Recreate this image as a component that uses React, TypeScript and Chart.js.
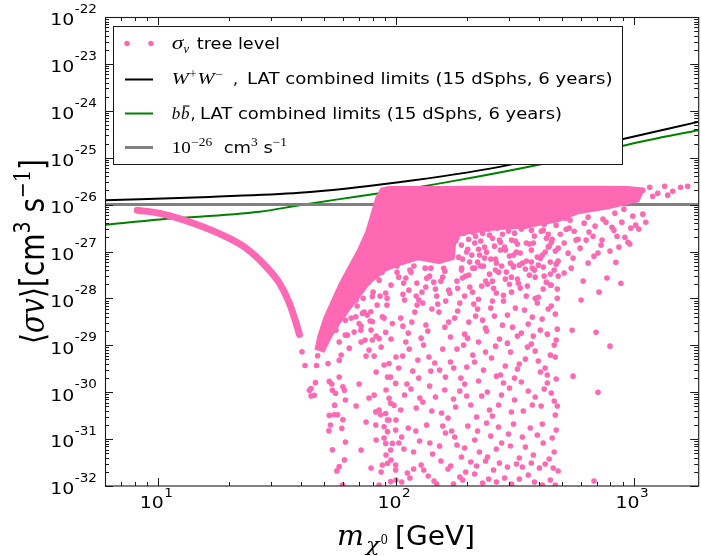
import React, { useEffect, useRef } from "react";
import { Chart, registerables } from "chart.js";

Chart.register(...registerables);

// ---------- axis ranges & ticks ----------
const X_MIN = 6;
const X_MAX = 1870;
const Y_MIN = 1e-32;
const Y_MAX = 1e-22;

const xMajorTicks = [10, 100, 1000];
const xTickExp = ["1", "2", "3"];
const yMajorTicks = [1e-22, 1e-23, 1e-24, 1e-25, 1e-26, 1e-27, 1e-28, 1e-29, 1e-30, 1e-31, 1e-32];
const yTickExp = ["-22", "-23", "-24", "-25", "-26", "-27", "-28", "-29", "-30", "-31", "-32"];
const minorMultipliers = [2, 3, 4, 5, 6, 7, 8, 9];

// ---------- limit curves ----------
const wwMass = [6, 16.5, 39.4, 103, 270, 885, 1870];
const wwLimit = [1.24e-26, 1.46e-26, 1.78e-26, 3.0e-26, 6.3e-26, 2.44e-25, 5.8e-25];

const bbMass = [6, 10.2, 26.8, 39.4, 70.2, 103, 167, 409, 1148, 1870];
const bbLimit = [3.73e-27, 4.82e-27, 7.0e-27, 9.7e-27, 1.51e-26, 2.03e-26, 3.05e-26, 7.26e-26, 2.36e-25, 3.86e-25];

const thermalMass = [6, 1870];
const thermalValue = [1e-26, 1e-26];

// ---------- tree-level scan: dense left arm (band of points) ----------
const armMass = [8.2, 10.2, 14.1, 19.4, 23.6, 28.6, 32.5, 35.8, 38.2, 39.4];
const armSigma = [7.6e-27, 6.5e-27, 4.0e-27, 2.05e-27, 1.16e-27, 4.7e-28, 2.1e-28, 7.8e-29, 2.9e-29, 1.7e-29];

// ---------- tree-level scan: densely filled core region (outline) ----------
const coreMass = [46.4, 47.8, 50.6, 54.7, 59.0, 63.8, 70.2, 75.9, 80.4, 83.6, 87.6, 93.8, 175, 184, 482, 709, 947, 1094, 1042, 781, 585, 482, 361, 270, 203, 177, 174, 152, 125, 103, 89.4, 77.3, 70.2, 63.8, 57.9, 52.6, 49.2];
const coreSigma = [7.9e-30, 1.57e-29, 3.8e-29, 9.2e-29, 2.12e-28, 4.4e-28, 1.07e-27, 2.58e-27, 6.9e-27, 1.37e-26, 2.1e-26, 2.25e-26, 2.25e-26, 2.3e-26, 2.3e-26, 2.3e-26, 2.25e-26, 2.1e-26, 1.24e-26, 8.8e-27, 6.9e-27, 4.66e-27, 3.47e-27, 3.15e-27, 2.59e-27, 2.13e-27, 7.2e-28, 5.93e-28, 7.2e-28, 5.4e-28, 4.0e-28, 2.22e-28, 1.17e-28, 6.2e-29, 3.13e-29, 1.43e-29, 7.2e-30];

// ---------- tree-level scan: individual scattered points [mass GeV, <sigma v>] ----------
const scatterArm: [number, number][] = [
  [40.4, 7.3e-30], [41.6, 3.7e-30], [43.4, 1.1e-30], [45.5, 8.6e-31], [46.0, 1.6e-30], [44.1, 1.2e-30], [44.1, 8.3e-31],
  [46.5, 3.7e-30], [47.0, 6.0e-30], [52.0, 4.1e-30], [52.6, 1.7e-30], [53.9, 1.5e-30], [54.2, 1.1e-30], [55.9, 9.5e-31],
  [57.9, 2.1e-30], [57.9, 4.8e-30], [59.0, 6.2e-30], [60.0, 1.3e-30], [60.9, 1.1e-30], [61.5, 6.8e-31], [55.4, 5.3e-31],
  [52.6, 3.2e-31], [55.2, 3.3e-31], [57.0, 3.3e-31], [60.0, 2.6e-31], [59.4, 1.7e-31], [52.4, 1.5e-31], [53.2, 2.0e-31],
  [61.5, 8.7e-32], [54.2, 5.9e-32], [60.9, 3.6e-32], [57.9, 2.6e-32], [56.6, 2.1e-32], [59.8, 1.05e-32],
];

const scatterColumn: [number, number][] = [
  [68.0, 2.1e-28], [70.2, 1.3e-28], [77.3, 2.25e-28], [85.2, 2.45e-28], [90.8, 1.3e-28], [79.8, 1.1e-28], [78.6, 5.2e-29],
  [72.5, 4.8e-29], [68.0, 4.05e-29], [61.5, 3.4e-29], [56.1, 2.1e-29], [70.2, 2.9e-29], [79.8, 3.2e-29], [87.9, 4.05e-29],
  [96.8, 2.9e-29], [90.8, 1.9e-29], [79.8, 1.3e-29], [85.2, 1.4e-29], [71.4, 2.1e-29], [62.7, 1.65e-29], [77.3, 7.9e-30],
  [89.4, 3.8e-30], [93.8, 4.1e-30], [95.3, 2.1e-30], [92.4, 2.1e-30], [100, 1.54e-30], [93.8, 7.4e-31], [95.3, 5.8e-31],
  [98.4, 5.3e-31], [82.5, 3.8e-31], [86.5, 3.3e-31], [90.8, 3.5e-31], [92.4, 2.55e-31], [82.5, 2.0e-31], [89.4, 1.84e-31],
  [92.4, 1.44e-31], [100, 1.56e-31], [96.8, 8.1e-32], [90.8, 8.1e-32], [95.3, 5.85e-32], [92.4, 3.05e-32], [87.9, 2.8e-32],
  [100, 2.8e-32], [100, 2.2e-32], [95.3, 1.24e-32], [101.3, 3.6e-28], [119.3, 4.9e-28], [135.2, 2.7e-28], [159.2, 4.4e-28],
  [113.7, 1.5e-28], [91.9, 7.2e-29], [125.2, 9.2e-29],
  [68.2, 9.2e-29], [71.6, 1.17e-29], [73.7, 5.1e-29], [75.1, 5.89e-30], [78.8, 2.11e-29], [82.8, 2.68e-30], [86.9, 9.15e-30],
  [91.1, 1.11e-30], [95.6, 1.36e-29], [100.3, 5.6e-30], [70.2, 1.5e-30], [77.3, 7.5e-31], [81.2, 5.89e-30], [85.2, 4.17e-31],
  [89.4, 1.05e-31], [95.6, 3.58e-32], [100.3, 2.55e-31], [82.8, 9.55e-32], [86.9, 1.99e-32], [91.1, 4.58e-32], [75.1, 2.31e-31],
  [78.8, 2.42e-32], [71.6, 5.85e-32], [68.2, 5.07e-31], [100.3, 1.34e-32], [103.2, 8.24e-32], [93.8, 2.55e-31], [85.2, 1.05e-32],
  [81.2, 8.68e-31], [89.4, 3.8e-29],
];

const scatterNearCore: [number, number][] = [
  [65.0, 3.8e-29], [68.9, 6.85e-29], [73.0, 1.01e-28], [75.9, 4.4e-29], [80.4, 1.36e-28], [83.6, 7.19e-29], [66.9, 1.91e-29],
  [71.6, 2.57e-29], [78.1, 3.28e-29], [82.8, 1.57e-29], [61.4, 1.65e-29], [57.9, 1.17e-29], [63.8, 8.7e-30], [74.4, 1.29e-29],
  [86.0, 1.12e-28],
  [87.7, 3.63e-28], [95.6, 1.92e-28], [101.3, 4.88e-28], [107.3, 1.23e-28], [114.8, 4.01e-28], [122.8, 2.12e-28], [130, 7.93e-29],
  [140.5, 4.42e-28], [148.8, 1.12e-28], [157.7, 2.84e-28], [167.1, 1.5e-28], [92.0, 1.01e-28], [110.4, 2.71e-28], [133.9, 1.74e-28],
  [162.4, 8.75e-29], [144.6, 2.22e-28],
  [178.7, 1.67e-27], [193.1, 2.46e-27], [204.6, 5.94e-28], [216.8, 2.12e-27], [236.4, 1.24e-27], [255.3, 1.92e-27], [265.4, 5.65e-28],
  [281.2, 2.34e-27], [300.8, 7.97e-28], [318.6, 1.67e-27], [337.6, 3.0e-27], [354.4, 6.24e-28], [379.0, 1.51e-27], [409.4, 2.71e-27],
  [425.4, 9.7e-28], [455.1, 1.83e-27], [482.3, 1.18e-27], [189.4, 4.42e-28], [225.3, 8.37e-28], [289.4, 1.07e-27], [397.7, 5.12e-28],
  [446.5, 5.94e-28], [198.8, 9.7e-28], [245.7, 3.0e-27], [312.6, 4.88e-28],
  [521, 2.99e-27], [573, 1.75e-27], [689, 3.47e-27], [737, 1.75e-27], [852, 2.12e-27], [947, 1.58e-27], [1021, 3.65e-27],
  [1094, 6.25e-27],
];

const scatterDense: [number, number][] = [
  [182.3, 1.65e-28], [196.9, 2.99e-28], [210.6, 1.36e-28], [227.5, 4.88e-28], [243.3, 2.01e-28], [262.8, 4.01e-28],
  [283.9, 1.17e-28], [306.5, 2.84e-28], [331.2, 5.12e-28], [357.8, 1.83e-28], [386.4, 1.01e-28], [417.4, 4.65e-28],
  [450.8, 1.92e-28], [482.3, 2.99e-28], [191.3, 6.88e-28], [223.1, 1.12e-27], [260.3, 1.3e-27], [303.6, 5.65e-28],
  [354.4, 1.51e-27], [413.4, 8.37e-28], [473, 5.38e-28], [202.7, 1.83e-27], [236.4, 7.23e-28], [275.8, 1.58e-27],
  [321.7, 9.7e-28], [375.4, 4.42e-28], [437.9, 1.24e-27],
];

const scatterLow: [number, number][] = [
  [108, 2.12e-28], [116, 3.63e-28], [129, 1.36e-28], [139, 2.98e-28], [147, 1.58e-28], [161, 3.81e-28], [181, 2.34e-28],
  [195, 1.12e-28], [211, 4.42e-28], [230, 1.83e-28], [248, 3.29e-28], [265, 1.3e-28], [289, 2.58e-28], [313, 4.65e-28],
  [334, 1.66e-28], [365, 3.13e-28], [398, 1.06e-28], [430, 2.22e-28], [464, 4.01e-28],
  [105, 3.8e-29], [113, 1.82e-29], [123, 7.19e-29], [134, 2.7e-29], [152, 5.1e-29], [170, 1.5e-29], [186, 7.93e-29],
  [203, 3.12e-29], [221, 5.91e-29], [241, 2.01e-29], [260, 4.19e-29], [284, 8.75e-29], [310, 2.44e-29], [348, 5.63e-29],
  [379, 1.57e-29], [413, 3.62e-29], [451, 6.85e-29], [478, 2.21e-29],
  [107, 5.89e-30], [118, 2.82e-30], [131, 1.01e-29], [146, 4.18e-30], [162, 2.1e-30], [181, 8.3e-30], [199, 3.43e-30],
  [223, 1.17e-29], [253, 5.34e-30], [276, 2.32e-30], [304, 7.17e-30], [331, 3.98e-30], [372, 1.06e-29], [406, 2.69e-30],
  [447, 6.18e-30], [473, 1.91e-30],
  [109, 8.69e-31], [122, 4.59e-31], [139, 1.35e-30], [156, 3.59e-31], [175, 7.14e-31], [195, 1.49e-30], [219, 2.95e-31],
  [243, 1.01e-30], [271, 5.32e-31], [301, 1.23e-30], [344, 3.96e-31], [386, 7.88e-31], [434, 1.57e-30], [469, 3.26e-31],
  [106, 1.11e-31], [119, 5.3e-32], [135, 1.99e-31], [153, 7.12e-32], [172, 1.49e-31], [189, 4.15e-32], [215, 9.55e-32],
  [241, 2.2e-31], [265, 6.14e-32], [298, 1.28e-31], [331, 3.95e-32], [368, 1.72e-31], [417, 8.25e-32], [464, 5.3e-32],
  [112, 1.89e-32], [128, 2.8e-32], [145, 1.28e-32], [166, 2.3e-32], [186, 1.55e-32], [207, 3.25e-32], [232, 1.16e-32],
  [258, 2.19e-32], [287, 1.48e-32], [322, 2.94e-32], [361, 1.71e-32], [402, 2.42e-32], [447, 1.34e-32], [482, 2.09e-32],
];

const scatterLow2: [number, number][] = [
  [103, 2.84e-28], [122, 1.12e-28], [133, 4.42e-28], [155, 2.33e-28], [169, 1.29e-28], [189, 4.01e-28], [205, 1.74e-28],
  [223, 9.6e-29], [255, 2.33e-28], [279, 4.88e-28], [307, 1.36e-28], [325, 2.58e-28], [354, 1.12e-28], [383, 4.01e-28],
  [417, 1.58e-28], [447, 3.3e-28], [478, 1.01e-28],
  [109, 9.2e-29], [117, 3.12e-29], [128, 1.42e-29], [142, 5.92e-29], [161, 2.44e-29], [177, 3.8e-29], [195, 1.73e-29],
  [213, 7.56e-29], [232, 3.44e-29], [251, 6.21e-29], [273, 1.36e-29], [295, 4.4e-29], [325, 1.57e-29], [361, 2.83e-29],
  [394, 7.94e-29], [434, 1.73e-29], [469, 4.63e-29],
  [103, 3.27e-30], [114, 8.3e-30], [125, 2.0e-30], [138, 5.6e-30], [153, 2.96e-30], [170, 4.39e-30], [188, 2.0e-30],
  [211, 6.18e-30], [234, 2.96e-30], [263, 9.6e-30], [289, 3.61e-30], [316, 2.0e-30], [351, 5.08e-30], [386, 7.52e-30],
  [425, 3.27e-30], [464, 1.01e-29],
  [105, 4.17e-31], [116, 1.17e-30], [130, 6.16e-31], [147, 7.87e-31], [166, 2.82e-31], [186, 1.06e-30], [207, 5.32e-31],
  [230, 8.27e-31], [255, 3.11e-31], [284, 1.57e-30], [316, 6.8e-31], [361, 1.06e-30], [409, 5.07e-31], [451, 9.58e-31],
  [478, 5.07e-31],
  [113, 1.72e-31], [126, 9.09e-32], [143, 4.81e-32], [162, 1.35e-31], [181, 7.47e-32], [201, 1.9e-31], [225, 5.3e-32],
  [251, 1.16e-31], [279, 8.24e-32], [313, 2.1e-31], [351, 6.77e-32], [394, 1.22e-31], [442, 3.76e-32], [473, 1.56e-31],
  [106, 1.21e-32], [119, 2.3e-32], [137, 1.63e-32], [155, 3.41e-32], [175, 1.1e-32], [197, 1.99e-32], [219, 2.67e-32],
  [246, 1.41e-32], [273, 3.09e-32], [307, 1.1e-32], [341, 2.54e-32], [383, 1.21e-32], [425, 2.94e-32], [469, 1.05e-32],
];

const scatterLow3: [number, number][] = [
  [107.3, 2.56e-29], [120.4, 5.1e-29], [136.5, 2.01e-29], [150.3, 7.56e-29], [167.1, 3.12e-29], [182.3, 5.36e-29],
  [200.7, 1.42e-29], [216.8, 4.19e-29], [238.7, 2.32e-29], [255.3, 8.76e-29], [281.2, 2.69e-29], [318.6, 6.21e-29],
  [337.6, 1.82e-29], [375.4, 3.99e-29], [405.5, 2.11e-29], [437.9, 5.92e-29], [473, 1.29e-29],
  [110.4, 1.17e-29], [124, 4.84e-30], [140.5, 2.82e-30], [157.7, 8.29e-30], [175.4, 3.27e-30], [193.1, 1.01e-29],
  [214.7, 4.39e-30], [238.7, 7.16e-30], [265.4, 2.2e-30], [295, 1.11e-29], [324.9, 3.11e-30], [357.8, 9.15e-30],
  [397.7, 4.61e-30], [433.8, 2.32e-30], [468.5, 5.6e-30],
  [111.5, 1.5e-30], [126.4, 7.5e-31], [141.9, 3.97e-31], [160.8, 1.11e-30], [178.7, 4.82e-31], [198.8, 8.27e-31],
  [223.1, 1.73e-30], [248.1, 4.17e-31], [278.5, 8.68e-31], [306.5, 3.78e-31], [337.6, 1.65e-30], [375.4, 5.32e-31],
  [421.3, 1.17e-30], [464, 6.47e-31],
  [108.3, 6.14e-32], [121.6, 1.49e-31], [139.2, 8.24e-32], [157.7, 1.9e-31], [177.1, 1.11e-31], [195, 6.45e-32],
  [221, 1.49e-31], [243.3, 4.15e-32], [270.5, 1.81e-31], [303.6, 7.11e-32], [340.9, 1.11e-31], [379, 4.58e-32],
  [413.4, 2.1e-31], [455.1, 1.05e-31],
  [114.8, 1.48e-32], [131.3, 2.19e-32], [148.8, 1.1e-32], [170.4, 2.67e-32], [191.3, 1.34e-32], [214.7, 1.8e-32],
  [238.7, 3.41e-32], [265.4, 1.21e-32], [295, 2.54e-32], [331.2, 1.41e-32], [371.8, 3.09e-32], [413.4, 1.05e-32],
  [459.6, 2.42e-32],
];

const scatterBand: [number, number][] = [
  [188, 6.57e-27], [203, 4.89e-27], [219, 7.99e-27], [239, 4.02e-27], [258, 5.95e-27], [279, 7.61e-27], [304, 4.44e-27],
  [328, 6.9e-27], [358, 5.14e-27], [386, 8.81e-27], [421, 3.83e-27], [460, 6.25e-27], [497, 8.39e-27], [541, 4.66e-27],
  [590, 7.24e-27], [644, 5.4e-27], [702, 9.26e-27], [766, 4.22e-27], [835, 6.57e-27], [911, 7.99e-27], [993, 5.67e-27],
  [181, 1.93e-27], [197, 2.99e-27], [215, 1.51e-27], [232, 2.46e-27], [253, 3.3e-27], [273, 1.75e-27], [298, 2.72e-27],
  [325, 1.44e-27], [351, 3.47e-27], [383, 2.13e-27], [417, 2.85e-27], [451, 1.58e-27], [492, 2.34e-27], [536, 3.15e-27],
  [585, 1.83e-27], [650, 2.59e-27], [730, 1.37e-27], [812, 3.3e-27], [920, 2.02e-27],
  [184, 7.58e-28], [201, 1.12e-27], [221, 5.93e-28], [241, 9.69e-28], [263, 6.87e-28], [287, 1.24e-27], [313, 8.37e-28],
  [341, 5.65e-28], [372, 1.07e-27], [406, 7.22e-28], [442, 1.3e-27], [482, 6.23e-28], [531, 9.23e-28], [596, 1.18e-27],
  [682, 7.96e-28], [796, 1.02e-27],
  [191, 2.71e-28], [215, 4.42e-28], [239, 2.34e-28], [271, 3.63e-28], [301, 2.01e-28], [351, 4.21e-28], [386, 2.84e-28],
  [447, 1.92e-28], [511, 3.46e-28], [614, 2.34e-28], [716, 1.36e-28],
];

const scatterBand2: [number, number][] = [
  [195, 3.47e-27], [211, 2.58e-27], [230, 4.22e-27], [248, 2.23e-27], [268, 3.15e-27], [292, 3.83e-27], [316, 2.46e-27],
  [344, 4.44e-27], [372, 2.85e-27], [402, 4.89e-27], [438, 2.34e-27], [473, 3.65e-27], [516, 5.14e-27], [563, 2.71e-27],
  [620, 4.02e-27], [676, 2.12e-27], [744, 4.89e-27], [827, 2.85e-27], [893, 4.22e-27], [974, 3.15e-27],
  [189, 1.37e-27], [209, 8.37e-28], [228, 1.67e-27], [251, 6.88e-28], [276, 1.07e-27], [307, 1.75e-27], [334, 9.24e-28],
  [365, 1.44e-27], [394, 7.59e-28], [430, 1.92e-27], [469, 1.02e-27], [511, 1.51e-27], [557, 7.23e-28], [632, 1.75e-27],
  [709, 9.24e-28], [868, 1.24e-27],
  [203, 3.14e-28], [234, 4.88e-28], [258, 1.65e-28], [292, 3.64e-28], [328, 2.11e-28], [372, 5.94e-28], [421, 2.99e-28],
  [478, 1.58e-28], [547, 4.42e-28], [644, 5.65e-28], [773, 2.71e-28],
];

const scatterFar: [number, number][] = [
  [552, 2.1e-29], [696, 1.9e-29], [796, 9.6e-30], [709, 1.0e-30], [682, 1.28e-32], [885, 2.1e-28], [602, 9.2e-29],
  [843, 5.9e-28], [965, 1.44e-27], [1052, 3.0e-27], [1126, 4.2e-27], [557, 2.2e-30], [1094, 2.03e-26], [1170, 2.35e-26],
  [1264, 1.75e-26], [1352, 2.47e-26], [1461, 1.93e-26], [1578, 2.35e-26], [1688, 2.47e-26], [1204, 1.51e-26],
  [1023, 1.3e-26], [1392, 1.59e-26],
];

// ---------- styling ----------
const PINK = "#ff69b4";
const GREEN = "#008000";
const GRAY = "#808080";
const SANS = "'DejaVu Sans'";
const SERIF = "'DejaVu Serif'";
const MATH = "'Liberation Serif'";
const SX = 1.18; // horizontal glyph stretch of the reference raster

type Run = { t: string; f: string; dy?: number; dx?: number };

function runsWidth(ctx: CanvasRenderingContext2D, runs: Run[], sx: number) {
  let w = 0;
  for (const r of runs) {
    ctx.font = r.f;
    w += ctx.measureText(r.t).width * sx + (r.dx ?? 0);
  }
  return w;
}

function drawRuns(
  ctx: CanvasRenderingContext2D,
  runs: Run[],
  x: number,
  y: number,
  align: "left" | "center" | "right",
  rotated = false,
  stretch = SX
) {
  ctx.save();
  ctx.translate(x, y);
  if (rotated) ctx.rotate(-Math.PI / 2);
  const sx = rotated ? 1 : stretch;
  const sy = rotated ? stretch : 1;
  ctx.textAlign = "left";
  ctx.textBaseline = "alphabetic";
  const w = runsWidth(ctx, runs, sx);
  let cx = align === "left" ? 0 : align === "center" ? -w / 2 : -w;
  for (const r of runs) {
    ctx.font = r.f;
    cx += r.dx ?? 0;
    const rw = ctx.measureText(r.t).width * sx;
    ctx.save();
    ctx.translate(cx, (r.dy ?? 0) * sy);
    ctx.scale(sx, sy);
    ctx.fillText(r.t, 0, 0);
    ctx.restore();
    cx += rw;
  }
  ctx.restore();
}

// text drawn from x, stretched/compressed to a given advance width
function fit(ctx: CanvasRenderingContext2D, t: string, f: string, x: number, y: number, w: number) {
  ctx.save();
  ctx.font = f;
  ctx.textAlign = "left";
  ctx.textBaseline = "alphabetic";
  const m = ctx.measureText(t).width;
  ctx.translate(x, y);
  ctx.scale(w / m, 1);
  ctx.fillText(t, 0, 0);
  ctx.restore();
}

const decorPlugin = {
  id: "decor",
  afterDatasetsDraw(chart: any) {
    const ctx: CanvasRenderingContext2D = chart.ctx;
    const a = chart.chartArea;
    const xs = chart.scales.x;
    const ys = chart.scales.y;
    ctx.save();

    // frame
    ctx.strokeStyle = "#1a1a1a";
    ctx.lineWidth = 1.1;
    ctx.strokeRect(a.left + 0.5, a.top + 0.5, a.right - a.left, a.bottom - a.top - 0.5);

    const seg = (x1: number, y1: number, x2: number, y2: number) => {
      ctx.beginPath();
      ctx.moveTo(x1, y1);
      ctx.lineTo(x2, y2);
      ctx.stroke();
    };

    // x ticks (inward, bottom and top)
    ctx.lineWidth = 1;
    const xDecades = [1, 10, 100, 1000];
    for (const d of xDecades) {
      for (const k of minorMultipliers) {
        const v = d * k;
        if (v < X_MIN || v > X_MAX) continue;
        const px = Math.round(xs.getPixelForValue(v)) + 0.5;
        seg(px, a.bottom, px, a.bottom - 4);
        seg(px, a.top, px, a.top + 4);
      }
    }
    for (const v of xMajorTicks) {
      const px = Math.round(xs.getPixelForValue(v)) + 0.5;
      seg(px, a.bottom, px, a.bottom - 8);
      seg(px, a.top, px, a.top + 8);
    }
    // y ticks (inward, left and right)
    for (const d of yMajorTicks) {
      for (const k of minorMultipliers) {
        const v = d * k;
        if (v < Y_MIN || v > Y_MAX) continue;
        const py = Math.round(ys.getPixelForValue(v)) + 0.5;
        seg(a.left, py, a.left + 4, py);
        seg(a.right, py, a.right - 4, py);
      }
    }
    for (const v of yMajorTicks) {
      const py = Math.round(ys.getPixelForValue(v)) + 0.5;
      seg(a.left, py, a.left + 8, py);
      seg(a.right, py, a.right - 8, py);
    }

    // tick labels
    ctx.fillStyle = "#000";
    xMajorTicks.forEach((v, i) => {
      const px = xs.getPixelForValue(v);
      drawRuns(
        ctx,
        [
          { t: "10", f: `16px ${SANS}` },
          { t: xTickExp[i], f: `11.5px ${SANS}`, dy: -11, dx: 0.5 },
        ],
        px - 1.5,
        a.bottom + 21.7,
        "center"
      );
    });
    yMajorTicks.forEach((v, i) => {
      const py = ys.getPixelForValue(v);
      drawRuns(
        ctx,
        [
          { t: "10", f: `16px ${SANS}` },
          { t: yTickExp[i], f: `11.5px ${SANS}`, dy: -12.3, dx: 0.5 },
        ],
        a.left - 8,
        py + 8.3,
        "right"
      );
    });

    // x axis title
    fit(ctx, "m", `italic 28px ${SERIF}`, 337, 545, 27);
    fit(ctx, "χ", `italic 19px ${SERIF}`, 366, 551, 13.5);
    fit(ctx, "0", `13px ${SERIF}`, 380.5, 544, 7.5);
    fit(ctx, "[GeV]", `26px ${SANS}`, 395, 545, 80);

    // y axis title
    drawRuns(
      ctx,
      [
        { t: "⟨", f: `28px ${SANS}` },
        { t: "σv", f: `italic 28px ${SERIF}` },
        { t: "⟩", f: `28px ${SANS}` },
        { t: "[cm", f: `28px ${SANS}` },
        { t: "3", f: `19px ${SANS}`, dy: -12 },
        { t: " s", f: `28px ${SANS}` },
        { t: "−1", f: `19px ${SERIF}`, dy: -12 },
        { t: "]", f: `28px ${SANS}` },
      ],
      44,
      251.5,
      "center",
      true
    );

    // legend
    const L = { x: 113, y: 26, w: 509, h: 138 };
    ctx.fillStyle = "#fff";
    ctx.fillRect(L.x, L.y, L.w, L.h);
    ctx.strokeStyle = "#1a1a1a";
    ctx.lineWidth = 1;
    ctx.strokeRect(L.x + 0.5, L.y + 0.5, L.w, L.h);

    const rows = [43.5, 79.5, 113.5, 147.5];
    const hx1 = 125;
    const hx2 = 153;
    ctx.fillStyle = PINK;
    for (const mx of [127, 151]) {
      ctx.beginPath();
      ctx.arc(mx, rows[0], 2.7, 0, Math.PI * 2);
      ctx.fill();
    }
    const handle = (y: number, color: string, lw: number) => {
      ctx.strokeStyle = color;
      ctx.lineWidth = lw;
      seg(hx1, y, hx2, y);
    };
    handle(rows[1], "#000", 2);
    handle(rows[2], GREEN, 2);
    handle(rows[3], GRAY, 3);

    ctx.fillStyle = "#000";
    const lab = `16px ${SANS}`;
    const mi = `italic 17px ${MATH}`;
    const sup = `12px ${MATH}`;
    const LAT = "LAT combined limits (15 dSphs, 6 years)";
    // row 1
    fit(ctx, "σ", `italic 18px ${MATH}`, 171.7, 49.3, 11.6);
    fit(ctx, "v", `italic 13px ${MATH}`, 183.5, 53, 5.5);
    fit(ctx, "tree level", lab, 196.7, 49.3, 83.3);
    // row 2
    fit(ctx, "W", mi, 171.7, 84.3, 17);
    fit(ctx, "+", sup, 189.5, 78, 7);
    fit(ctx, "W", mi, 197.5, 84.3, 17);
    fit(ctx, "−", sup, 215.5, 78, 7.5);
    fit(ctx, ",", lab, 233, 84.3, 5);
    fit(ctx, LAT, lab, 247, 84.3, 365.5);
    // row 3
    fit(ctx, "b", mi, 171.7, 119, 8.5);
    fit(ctx, "b", mi, 181, 119, 8.5);
    ctx.fillRect(183, 105.5, 6.5, 1.1);
    fit(ctx, ",", lab, 190.5, 119, 5);
    fit(ctx, LAT, lab, 200, 119, 362);
    // row 4
    drawRuns(
      ctx,
      [
        { t: "10", f: `17px ${MATH}` },
        { t: "−26", f: sup, dy: -7.5, dx: 0.5 },
        { t: "  cm", f: lab },
        { t: "3", f: sup, dy: -7 },
        { t: " s", f: lab },
        { t: "−1", f: sup, dy: -7 },
      ],
      171.7,
      153,
      "left",
      false,
      1.12
    );

    ctx.restore();
  },
};

const toPoints = (ms: number[], ss: number[]) => ms.map((m, i) => ({ x: m, y: ss[i] }));
const fromPairs = (ps: [number, number][]) => ps.map(([m, s]) => ({ x: m, y: s }));

export default function App() {
  const ref = useRef<HTMLCanvasElement>(null);
  useEffect(() => {
    if (!ref.current) return;
    const scatterData = [
      ...fromPairs(scatterArm),
      ...fromPairs(scatterColumn),
      ...fromPairs(scatterNearCore),
      ...fromPairs(scatterDense),
      ...fromPairs(scatterLow),
      ...fromPairs(scatterLow2),
      ...fromPairs(scatterLow3),
      ...fromPairs(scatterBand),
      ...fromPairs(scatterBand2),
      ...fromPairs(scatterFar),
    ];
    const chart = new Chart(ref.current, {
      type: "scatter",
      data: {
        datasets: [
          {
            type: "scatter",
            label: "σv tree level",
            data: scatterData,
            pointRadius: 2.8,
            pointHoverRadius: 2.8,
            pointBackgroundColor: PINK,
            pointBorderWidth: 0,
            clip: 0,
            order: 0,
          } as any,
          {
            type: "line",
            label: "tree arm",
            data: toPoints(armMass, armSigma),
            borderColor: PINK,
            borderWidth: 7,
            borderCapStyle: "round",
            borderJoinStyle: "round",
            cubicInterpolationMode: "monotone",
            pointRadius: 0,
            clip: 0,
            order: 1,
          } as any,
          {
            type: "line",
            label: "tree core",
            data: toPoints(coreMass, coreSigma),
            borderColor: PINK,
            backgroundColor: PINK,
            borderWidth: 4,
            borderJoinStyle: "round",
            fill: "shape",
            pointRadius: 0,
            tension: 0,
            clip: 0,
            order: 2,
          } as any,
          {
            type: "line",
            label: "1e-26",
            data: toPoints(thermalMass, thermalValue),
            borderColor: GRAY,
            borderWidth: 3,
            pointRadius: 0,
            clip: 0,
            order: 3,
          } as any,
          {
            type: "line",
            label: "WW",
            data: toPoints(wwMass, wwLimit),
            borderColor: "#000",
            borderWidth: 2,
            cubicInterpolationMode: "monotone",
            pointRadius: 0,
            clip: 0,
            order: 4,
          } as any,
          {
            type: "line",
            label: "bb",
            data: toPoints(bbMass, bbLimit),
            borderColor: GREEN,
            borderWidth: 2,
            cubicInterpolationMode: "monotone",
            pointRadius: 0,
            clip: 0,
            order: 5,
          } as any,
        ],
      },
      options: {
        animation: false,
        responsive: false,
        devicePixelRatio: 1,
        events: [],
        layout: { padding: { left: 105, right: 0, top: 17, bottom: 70 } },
        plugins: { legend: { display: false }, tooltip: { enabled: false }, title: { display: false } },
        scales: {
          x: { type: "logarithmic", min: X_MIN, max: X_MAX, display: false },
          y: { type: "logarithmic", min: Y_MIN, max: Y_MAX, display: false },
        },
      },
      plugins: [decorPlugin],
    });
    return () => chart.destroy();
  }, []);
  return (
    <div style={{ position: "absolute", left: 0, top: 0, width: 701, height: 556, background: "#fff" }}>
      <canvas ref={ref} width={701} height={556} style={{ width: 701, height: 556, display: "block" }} />
    </div>
  );
}
